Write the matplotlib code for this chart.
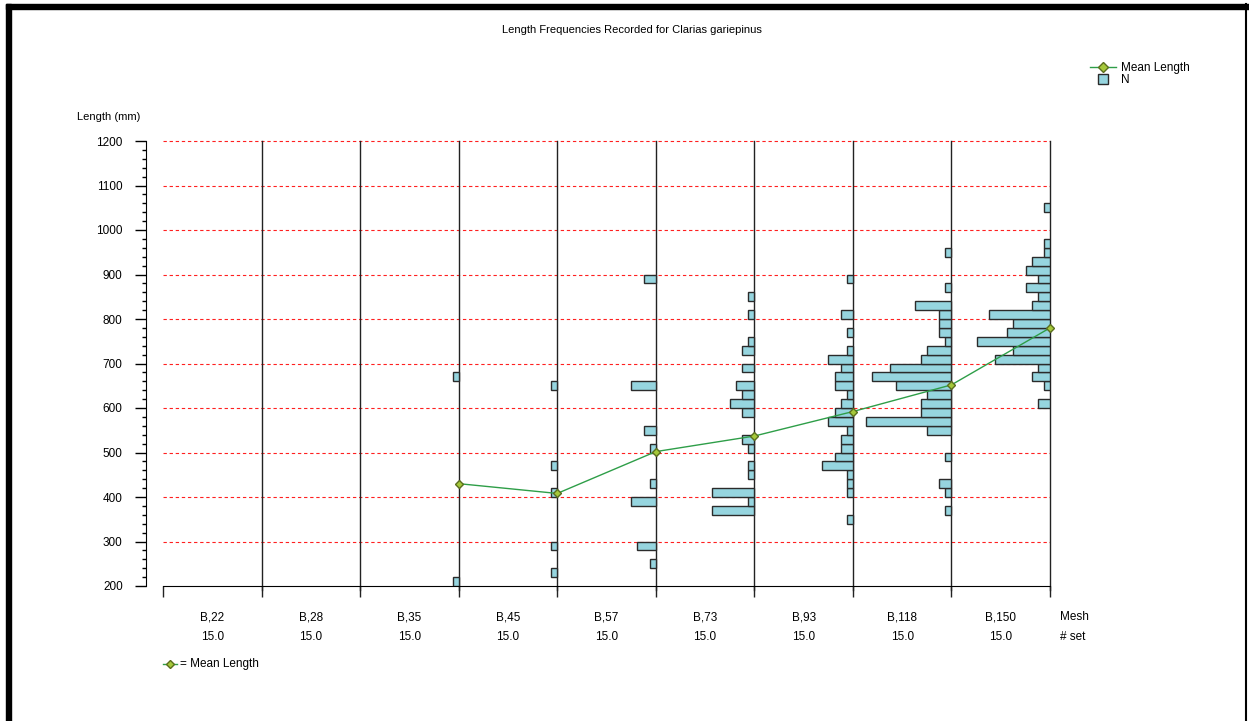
import numpy as np
import matplotlib
matplotlib.use("Agg")
import matplotlib.pyplot as plt
from matplotlib.patches import Rectangle
from matplotlib.lines import Line2D

plt.rcParams['font.family'] = ['Liberation Sans', 'DejaVu Sans']

# mesh columns along the bottom
meshes = ["B,22", "B,28", "B,35", "B,45", "B,57", "B,73", "B,93", "B,118", "B,150"]
nset = ["15.0"] * 9

# length bins (lower edge, 20 mm classes) and counts per mesh; B,22 and B,28 caught nothing
len_b35 = [200, 660]
n_b35 = [1, 1]
len_b45 = [220, 280, 400, 460, 640]
n_b45 = [1, 1, 1, 1, 1]
len_b57 = [240, 280, 380, 420, 500, 540, 640, 880]
n_b57 = [1, 3, 4, 1, 1, 2, 4, 2]
len_b73 = [360, 380, 400, 440, 460, 500, 520, 580, 600, 620, 640, 680, 720, 740, 800, 840]
n_b73 = [7, 1, 7, 1, 1, 1, 2, 2, 4, 2, 3, 2, 2, 1, 1, 1]
len_b93 = [340, 400, 420, 440, 460, 480, 500, 520, 540, 560, 580, 600, 620, 640, 660, 680,
           700, 720, 760, 800, 880]
n_b93 = [1, 1, 1, 1, 5, 3, 2, 2, 1, 4, 3, 2, 1, 3, 3, 2, 4, 1, 1, 2, 1]
len_b118 = [360, 400, 420, 480, 540, 560, 580, 600, 620, 640, 660, 680, 700, 720, 740, 760,
            780, 800, 820, 860, 940]
n_b118 = [1, 1, 2, 1, 4, 14, 5, 5, 4, 9, 13, 10, 5, 4, 1, 2, 2, 2, 6, 1, 1]
len_b150 = [600, 640, 660, 680, 700, 720, 740, 760, 780, 800, 820, 840, 860, 880, 900, 920,
            940, 960, 1040]
n_b150 = [2, 1, 3, 2, 9, 6, 12, 7, 6, 10, 3, 2, 4, 2, 4, 3, 1, 1, 1]

# mean length per mesh (B,35 .. B,150)
mean_len = [430, 408, 502, 537, 592, 652, 780]

hists = [(2, len_b35, n_b35), (3, len_b45, n_b45), (4, len_b57, n_b57), (5, len_b73, n_b73),
         (6, len_b93, n_b93), (7, len_b118, n_b118), (8, len_b150, n_b150)]

bar_col = '#96d5df'
line_col = '#2e9e48'
mk_face, mk_edge = '#a5c83a', '#5a6e1e'

W, H = 1249, 721
fig = plt.figure(figsize=(W / 100, H / 100), dpi=100)
ax = fig.add_axes([163 / W, 1 - 586 / H, (1050 - 163) / W, (586 - 141) / H])

unit = 0.062  # column width per fish
for j, lens, ns in hists:
    ax.barh(lens, -np.array(ns) * unit, height=20, left=j + 1, align='edge',
            color=bar_col, edgecolor='#2b2b2b', linewidth=1, zorder=3)

# red dashed grid
for yv in range(300, 1201, 100):
    ax.axhline(yv, color='#ff2020', lw=0.8, ls=(0, (3, 2.5)), zorder=1, clip_on=False)
# column separators
for xv in range(1, 10):
    ax.plot([xv, xv], [190, 1200], color='#222222', lw=1, zorder=2, clip_on=False)

xm = np.arange(3, 10)
ax.plot(xm, mean_len, color=line_col, lw=1, marker='D', markersize=4.5,
        markerfacecolor=mk_face, markeredgecolor=mk_edge, zorder=5, clip_on=False)

ax.set_xlim(0, 9)
ax.set_ylim(200, 1200)
ax.set_xticks(range(10))
ax.set_xticklabels([])
ax.tick_params(axis='x', length=8, width=1, color='#222222')
ax.set_yticks(range(200, 1201, 100))
ax.set_yticks(range(200, 1201, 20), minor=True)
ax.tick_params(axis='y', which='major', length=8, width=1, pad=9, labelsize=8.5)
ax.tick_params(axis='y', which='minor', length=3, width=1)
ax.spines['left'].set_position(('outward', 12))
ax.spines['right'].set_visible(False)
ax.spines['top'].set_visible(False)

xt = ax.get_xaxis_transform()
for j in range(9):
    ax.text(j + 0.5, -0.07, meshes[j], transform=xt, ha='center', va='center', fontsize=8.5)
    ax.text(j + 0.5, -0.115, nset[j], transform=xt, ha='center', va='center', fontsize=8.5)
ax.text(9.25, -0.07, "Mesh", transform=xt, ha='center', va='center', fontsize=8.5)
ax.text(9.23, -0.115, "# set", transform=xt, ha='center', va='center', fontsize=8.5)

fig.text(632 / W, 1 - 30 / H, "Length Frequencies Recorded for Clarias gariepinus",
         ha='center', va='center', fontsize=8)
fig.text(77 / W, 1 - 117 / H, "Length (mm)", ha='left', va='center', fontsize=8)

# "-◆- = Mean Length" note under the chart
fig.add_artist(Line2D([163 / W, 177 / W], [1 - 664 / H] * 2, color=line_col, lw=1))
fig.add_artist(Line2D([170 / W], [1 - 664 / H], marker='D', markersize=4,
                      markerfacecolor=mk_face, markeredgecolor=mk_edge))
fig.text(180 / W, 1 - 664 / H, "= Mean Length", ha='left', va='center', fontsize=8.5)

handles = [Line2D([], [], color=line_col, lw=1, marker='D', markersize=5.5,
                  markerfacecolor=mk_face, markeredgecolor=mk_edge),
           Line2D([], [], ls='none', marker='s', markersize=6.5,
                  markerfacecolor=bar_col, markeredgecolor='#2b2b2b')]
ax.legend(handles, ['Mean Length', 'N'], loc='upper left',
          bbox_to_anchor=(1084 / W, 1 - 56 / H), bbox_transform=fig.transFigure,
          frameon=False, fontsize=8.5, handlelength=2.2, handletextpad=0.4,
          labelspacing=0.05, borderpad=0)

# window frame
fig.add_artist(Rectangle((6 / W, 0), 5 / W, 1 - 4 / H, transform=fig.transFigure, color='black'))
fig.add_artist(Rectangle((6 / W, 1 - 9 / H), 1 - 6 / W, 5 / H, transform=fig.transFigure, color='black'))
fig.add_artist(Line2D([1246 / W] * 2, [0, 1 - 4 / H], color='black', lw=1.5))

fig.savefig("out.png", dpi=100)
